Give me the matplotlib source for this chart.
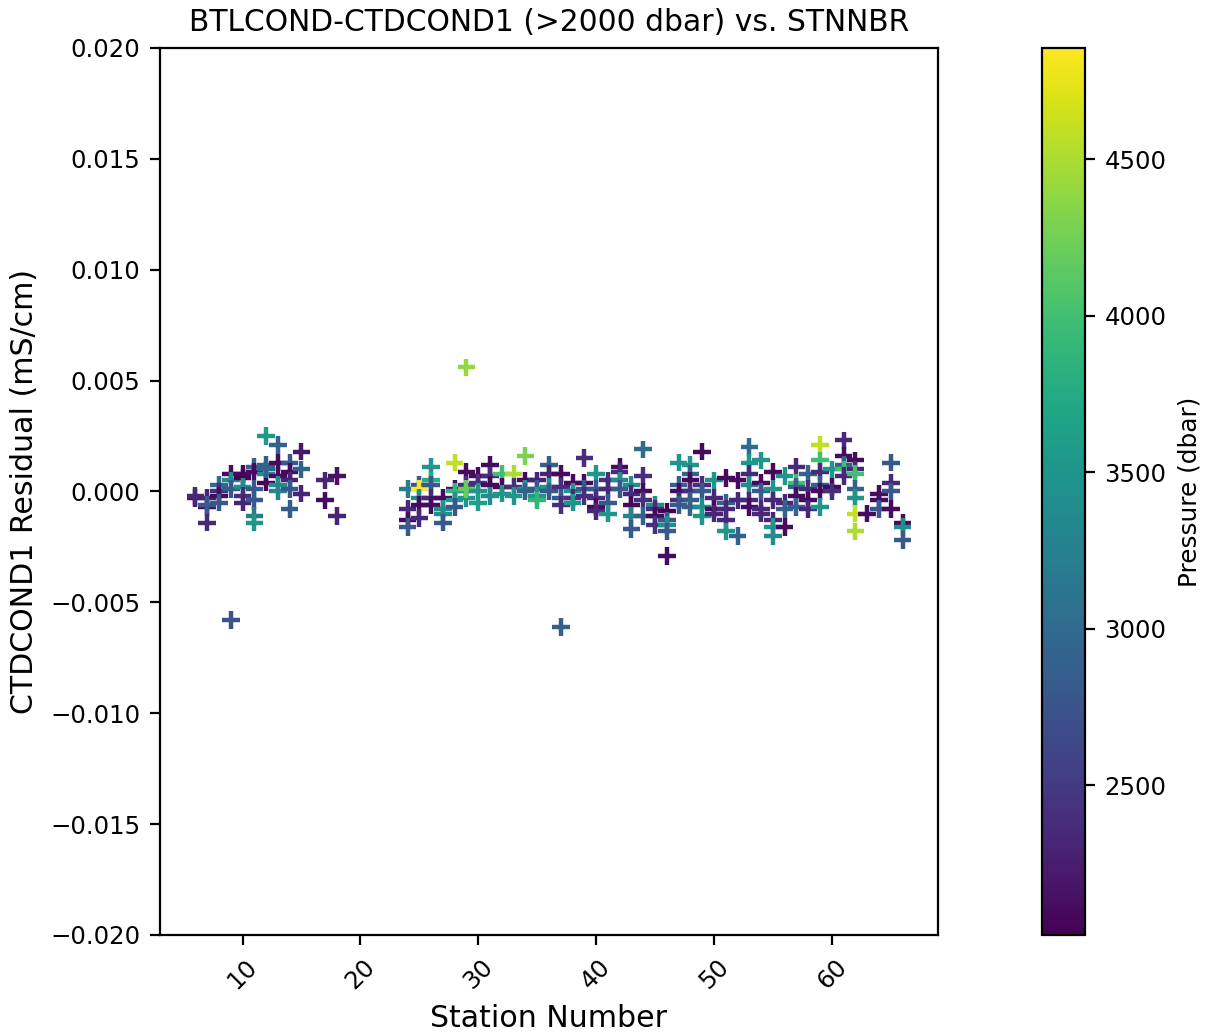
import matplotlib

matplotlib.use("Agg")
import matplotlib.pyplot as plt

# station number, residual (mS/cm) and pressure (dbar)
stnnbr = [
    6, 6, 7, 7, 7, 7,
    8, 8, 8, 8,
    9, 9, 9, 9,
    10, 10, 10, 10, 10,
    11, 11, 11, 11, 11, 11,
    12, 12, 12, 12, 12,
    13, 13, 13, 13, 13,
    14, 14, 14, 14, 14,
    15, 15, 15,
    17, 17, 18, 18,
    24, 24, 24, 24,
    25, 25, 25, 25, 25,
    26, 26, 26, 26, 26,
    27, 27, 27, 27,
    28, 28, 28, 28, 28,
    29, 29, 29, 29, 29, 29,
    30, 30, 30, 30,
    31, 31, 31, 31,
    32, 32, 32,
    33, 33, 33,
    34, 34, 34, 34,
    35, 35, 35, 35,
    36, 36, 36, 36,
    37, 37, 37, 37, 37,
    38, 38, 38, 38,
    39, 39, 39, 39,
    40, 40, 40, 40, 40,
    41, 41, 41, 41,
    42, 42, 42, 42,
    43, 43, 43, 43, 43,
    44, 44, 44, 44, 44,
    45, 45, 45, 45,
    46, 46, 46, 46, 46,
    47, 47, 47, 47, 47,
    48, 48, 48, 48, 48, 48,
    49, 49, 49, 49, 49,
    50, 50, 50, 50,
    51, 51, 51, 51, 51,
    52, 52, 52,
    53, 53, 53, 53, 53, 53,
    54, 54, 54, 54, 54,
    55, 55, 55, 55, 55, 55,
    56, 56, 56, 56,
    57, 57, 57, 57, 57,
    58, 58, 58, 58,
    59, 59, 59, 59, 59, 59,
    60, 60, 60,
    61, 61, 61, 61, 61,
    62, 62, 62, 62, 62, 62, 62,
    63,
    64, 64, 64,
    65, 65, 65, 65,
    66, 66, 66,
]
residual = [
    -0.0003, -0.0002, -0.0003, -0.0007, -0.0014, -0.0006,
    0.0003, 0.0000, -0.0002, -0.0005,
    0.0008, 0.0005, 0.0001, -0.0058,
    0.0008, 0.0006, 0.0002, -0.0002, -0.0005,
    0.0011, 0.0009, 0.0001, -0.0004, -0.0011, -0.0014,
    0.0025, 0.0012, 0.0008, 0.0004, 0.0010,
    0.0021, 0.0013, 0.0007, 0.0003, 0.0000,
    0.0013, 0.0009, 0.0005, 0.0001, -0.0008,
    0.0018, 0.0010, -0.0001,
    0.0005, -0.0004, 0.0007, -0.0011,
    0.0001, -0.0008, -0.0013, -0.0016,
    0.0003, 0.0001, -0.0003, -0.0006, -0.0012,
    0.0011, 0.0005, 0.0003, -0.0003, -0.0006,
    -0.0003, -0.0008, -0.0010, -0.0014,
    0.0013, 0.0001, 0.0000, -0.0004, -0.0007,
    0.0056, 0.0009, 0.0003, 0.0000, -0.0003, 0.0001,
    0.0007, 0.0004, 0.0000, -0.0005,
    0.0012, 0.0007, 0.0003, -0.0002,
    0.0008, 0.0002, -0.0001,
    0.0008, 0.0002, -0.0002,
    0.0016, 0.0005, 0.0001, 0.0000,
    0.0005, 0.0001, -0.0002, -0.0004,
    0.0012, 0.0008, 0.0002, 0.0000,
    0.0008, 0.0002, -0.0003, -0.0006, -0.0061,
    0.0004, 0.0000, -0.0003, -0.0005,
    0.0015, 0.0004, 0.0001, -0.0002,
    0.0008, 0.0001, -0.0003, -0.0007, -0.0009,
    0.0005, 0.0001, -0.0005, -0.0010,
    0.0011, 0.0009, 0.0005, 0.0001,
    0.0003, -0.0001, -0.0006, -0.0011, -0.0017,
    0.0019, 0.0007, 0.0000, -0.0004, -0.0011,
    -0.0006, -0.0008, -0.0011, -0.0015,
    -0.0009, -0.0013, -0.0015, -0.0018, -0.0029,
    0.0013, 0.0003, 0.0000, -0.0004, -0.0006,
    0.0012, 0.0008, 0.0005, 0.0000, -0.0004, -0.0007,
    0.0018, 0.0003, 0.0000, -0.0007, -0.0011,
    0.0005, -0.0003, -0.0008, -0.0010,
    0.0006, -0.0005, -0.0008, -0.0013, -0.0018,
    0.0005, -0.0004, -0.0020,
    0.0020, 0.0013, 0.0008, 0.0003, -0.0004, -0.0007,
    0.0014, 0.0004, 0.0000, -0.0008, -0.0010,
    0.0009, 0.0001, -0.0004, -0.0013, -0.0016, -0.0020,
    0.0007, -0.0005, -0.0008, -0.0016,
    0.0011, 0.0004, 0.0002, -0.0002, -0.0007,
    0.0008, 0.0001, -0.0004, -0.0008,
    0.0021, 0.0014, 0.0009, 0.0003, -0.0000, -0.0007,
    0.0010, 0.0002, 0.0000,
    0.0023, 0.0016, 0.0012, 0.0010, 0.0007,
    0.0014, 0.0010, 0.0008, 0.0001, -0.0003, -0.0010, -0.0018,
    -0.0010,
    -0.0001, -0.0004, -0.0008,
    0.0013, 0.0004, -0.0000, -0.0008,
    -0.0014, -0.0016, -0.0022,
]
pressure = [
    2200, 2350, 2300, 2100, 2350, 2800,
    3000, 2400, 2100, 2800,
    2100, 3400, 2800, 2750,
    2100, 2050, 3400, 2400, 2300,
    2900, 2100, 2800, 2800, 3200, 3500,
    3550, 2900, 3400, 2050, 2900,
    2900, 2100, 2100, 3400, 3300,
    2800, 2100, 2300, 2800, 2800,
    2200, 2900, 2300,
    2300, 2100, 2150, 2300,
    3200, 2350, 2100, 2800,
    2800, 4855, 3400, 2100, 2350,
    3500, 3800, 2800, 2350, 2100,
    2100, 3500, 3400, 2800,
    4600, 2100, 3900, 3500, 2800,
    4400, 2100, 2400, 3600, 3500, 4200,
    2100, 2400, 3500, 3600,
    2100, 2400, 2100, 3400,
    4000, 2100, 3500,
    4500, 2400, 3500,
    4300, 2100, 3500, 2900,
    2300, 2800, 3500, 3900,
    2900, 2300, 3500, 2800,
    2100, 2400, 2800, 2400, 2900,
    2100, 3500, 2400, 3500,
    2400, 2100, 2800, 2400,
    3500, 2800, 2400, 2100, 2350,
    2400, 2350, 2800, 3500,
    2100, 2350, 3400, 2800,
    3400, 2350, 2100, 3300, 2800,
    3000, 2400, 2100, 2400, 2900,
    3400, 2400, 2100, 2400,
    2021, 2800, 3400, 2800, 2100,
    3500, 2900, 2100, 2400, 2800,
    3500, 2900, 2100, 2400, 2800, 2900,
    2100, 2400, 2800, 3400, 3500,
    3500, 2350, 2100, 2300,
    2100, 2900, 2350, 2350, 3500,
    2100, 2350, 2900,
    3000, 3500, 2350, 3400, 2350, 2100,
    3500, 2100, 2800, 2350, 2350,
    2100, 3500, 2350, 2350, 3500, 3400,
    3500, 2350, 2900, 2100,
    2350, 4000, 2900, 2100, 2900,
    2900, 2350, 2100, 2350,
    4600, 4000, 2350, 2900, 2100, 3500,
    3500, 2100, 2400,
    2350, 2100, 2900, 4000, 2350,
    2100, 2350, 4000, 2900, 3500, 4600, 4500,
    2100,
    2100, 2100, 2800,
    2800, 2350, 2800, 2100,
    2100, 3400, 2800,
]


def plot_residuals(x, y, c, file_name="out.png"):
    """Scatter residuals vs. station, coloured by pressure."""
    fig = plt.figure(figsize=(6.03, 5.16), dpi=200)
    ax = fig.add_axes([0.1327, 0.094, 0.645, 0.8595])
    cax = fig.add_axes([0.864, 0.094, 0.0357, 0.8595])

    sc = ax.scatter(x, y, c=c, marker="+", s=40, linewidths=1.6, cmap="viridis")
    ax.set_ylim(-0.02, 0.02)
    ax.set_title("BTLCOND-CTDCOND1 (>2000 dbar) vs. STNNBR", fontsize=10.7)
    ax.set_xlabel("Station Number", fontsize=10.8)
    ax.set_ylabel("CTDCOND1 Residual (mS/cm)", fontsize=10.8)
    ax.tick_params(labelsize=8.8)
    ax.tick_params(axis="x", labelrotation=45)

    cbar = fig.colorbar(sc, cax=cax)
    cbar.set_label("Pressure (dbar)", fontsize=8.9)
    cbar.ax.tick_params(labelsize=8.8)

    fig.savefig(file_name, dpi=200)
    plt.close(fig)


plot_residuals(stnnbr, residual, pressure)
